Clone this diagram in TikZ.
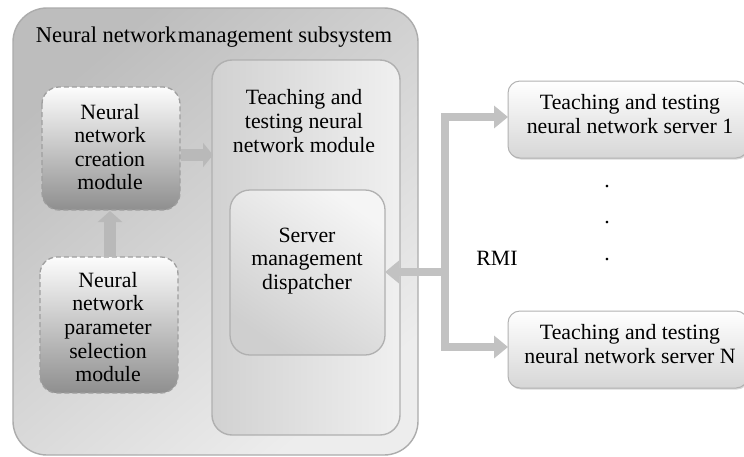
\documentclass[tikz,border=0pt]{standalone}
\usepackage{fontspec}
\setmainfont{Liberation Serif}
\usetikzlibrary{arrows.meta,shadows}
\begin{document}
\begin{tikzpicture}[x=1pt,y=-1pt,
  lbl/.style={align=center,font=\fontsize{21.8}{23.6}\selectfont,inner sep=0pt},
  outerbox/.style={draw=gray!65,line width=1.4pt,rounded corners=34pt,
    top color=gray!52,bottom color=gray!14,shading angle=40},
  modbox/.style={draw=gray!62,line width=1.4pt,rounded corners=20pt,
    left color=gray!36,right color=gray!12},
  dispbox/.style={draw=gray!62,line width=1.3pt,rounded corners=20pt,
    top color=gray!8,bottom color=gray!38,shading angle=-35},
  dashbox/.style={draw=gray!75,dash pattern=on 5pt off 3pt,line width=1.3pt,
    rounded corners=17pt,top color=gray!2,bottom color=gray!88},
  srvbox/.style={draw=gray!60,line width=1pt,rounded corners=12pt,
    top color=white,bottom color=gray!32,drop shadow={opacity=0.3,shadow xshift=1pt,shadow yshift=-1.5pt}},
  fat/.style={draw=gray!48,line width=8pt},
  fathead/.style={-{Triangle[width=22pt,length=14pt]}},
  blockarrow/.style={draw=gray!55,line width=12pt},
]
\useasboundingbox (0,0) rectangle (744,456);
\fill[white] (0,0) rectangle (744,456);

% subsystem frame
\path[outerbox] (13,8) rectangle (418,455);
\node[lbl,font=\fontsize{22.5}{24}\selectfont] (title) at (214,37) {Neural network\kern1.5pt management subsystem};

% teaching and testing module with dispatcher inside
\path[modbox] (212,60) rectangle (400,435);
\node[lbl] (teach) at (304,121) {Teaching and\\testing neural\\network module};
\path[dispbox] (230,190) rectangle (385,355);
\node[lbl] (disp) at (307,261) {Server\\management\\dispatcher};
\coordinate (dispE) at (385,272);

% dashed modules
\path[dashbox] (42,87) rectangle (180,210);
\node[lbl] (create) at (110,147) {Neural\\network\\creation\\module};
\path[dashbox] (40,257) rectangle (178,393);
\node[lbl] (param) at (108,327) {Neural\\network\\parameter\\selection\\module};
\coordinate (createS) at (110,211);
\coordinate (paramN) at (110,257);
\coordinate (createE) at (181,155);
\coordinate (teachW) at (213,155);

% servers
\path[srvbox] (508,81) rectangle (748,158);
\node[lbl] (s1) at (630,114) {Teaching and testing\\neural network server 1};
\path[srvbox] (508,311) rectangle (748,388);
\node[lbl] (sN) at (630,344) {Teaching and testing\\neural network server N};
\coordinate (s1W) at (508,117);
\coordinate (sNW) at (508,347);

% arrows inside the subsystem
\draw[blockarrow,-{Triangle[width=24pt,length=11pt]}] (paramN) -- (createS);
\draw[blockarrow,-{Triangle[width=24pt,length=10pt]}] (createE) -- (teachW);

% RMI bus
\coordinate (busT) at (445,117);
\coordinate (busB) at (445,347);
\coordinate (busM) at (445,272);
\draw[fat] ([yshift=-4pt]busT) -- ([yshift=4pt]busB);
\draw[fat,fathead] ([xshift=-4pt]busT) -- (s1W);
\draw[fat,fathead] ([xshift=-4pt]busB) -- (sNW);
\draw[fat,fathead] ([xshift=4pt]busM) -- (dispE);

\node[lbl] (rmi) at (497,258) {RMI};
\node[lbl] (d1) at (607,187) {.};
\node[lbl] (d2) at (607,223) {.};
\node[lbl] (d3) at (607,260) {.};
\end{tikzpicture}
\end{document}
